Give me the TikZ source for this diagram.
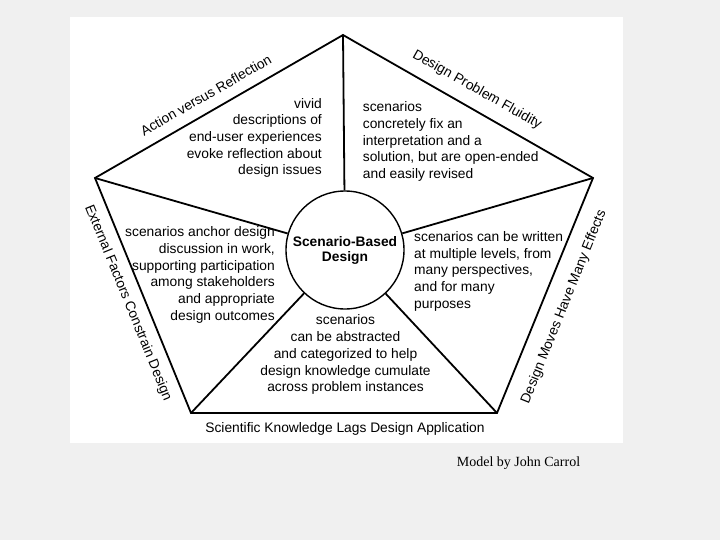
\documentclass[tikz,border=0pt]{standalone}
\usepackage{fontspec}
\setmainfont{Liberation Sans}
\newfontfamily\creditfont{Liberation Serif}
\definecolor{slidegrey}{HTML}{F0F0F0}

\begin{document}
\begin{tikzpicture}[%
        x=1pt, y=-1pt,
        side/.style={line width=1.8pt, line join=miter},
        blurb/.style={font=\fontsize{13.8}{16.7}\selectfont, inner sep=0pt},
        theme/.style={font=\fontsize{13.8}{16.7}\selectfont, inner sep=0pt}
    ]
    \fill[slidegrey] (0,0) rectangle (720,540);
    \fill[white] (70,17) rectangle (623,443);
    \useasboundingbox (0,0) rectangle (720,540);

    % pentagon corners
    \coordinate (top)    at (343,35);
    \coordinate (right)  at (593,178);
    \coordinate (lowr)   at (497,413);
    \coordinate (lowl)   at (191,413);
    \coordinate (left)   at (95,178);

    \node[%
        circle, draw, line width=1.4pt,
        minimum size=118pt,
        align=center, inner sep=0pt,
        font=\fontsize{13.8}{15}\selectfont\bfseries
    ] (hub) at (345,250) {Scenario-Based\\Design};

    \draw[side] (top) -- (right) -- (lowr) -- (lowl) -- (left) -- cycle;

    \path[side]
    (top)   edge (hub)
    (right) edge (hub)
    (lowr)  edge (hub)
    (lowl)  edge (hub)
    (left)  edge (hub);

    % names of the sides
    \node[theme, rotate=29.8]  (ar) at (206,95)  {Action versus Reflection};
    \node[theme, rotate=-29.5] (pf) at (477,90)  {Design Problem Fluidity};
    \node[theme, rotate=68.1]  (me) at (564,307) {Design Moves Have Many Effects};
    \node[theme, rotate=-67.8] (ec) at (128,303) {External Factors Constrain Design};
    \node[theme, anchor=base]  (kl) at (345,432.3) {Scientific Knowledge Lags Design Application};

    % texts in the sectors (base = last line)
    \node[blurb, align=right, anchor=base east] (vivid) at (322,175)
        {vivid\\descriptions of\\end-user experiences\\evoke reflection about\\design issues};
    \node[blurb, align=left, anchor=base west] (fix) at (362.7,178.6)
        {scenarios\\concretely fix an\\interpretation and a\\solution, but are open-ended\\and easily revised};
    \node[blurb, align=right, anchor=base east] (anchor) at (275,320.2)
        {scenarios anchor design\\discussion in work,\\supporting participation\\among stakeholders\\and appropriate\\design outcomes};
    \node[blurb, align=left, anchor=base west] (levels) at (414,308.3)
        {scenarios can be written\\at multiple levels, from\\many perspectives,\\and for many\\purposes};
    \node[blurb, align=center, anchor=base] (abstr) at (345.5,391.7)
        {scenarios\\can be abstracted\\and categorized to help\\design knowledge cumulate\\across problem instances};

    \node[font=\creditfont\fontsize{14}{16}\selectfont, anchor=base west, inner sep=0pt]
        (credit) at (456.7,466.7) {Model by John Carrol};
\end{tikzpicture}
\end{document}
